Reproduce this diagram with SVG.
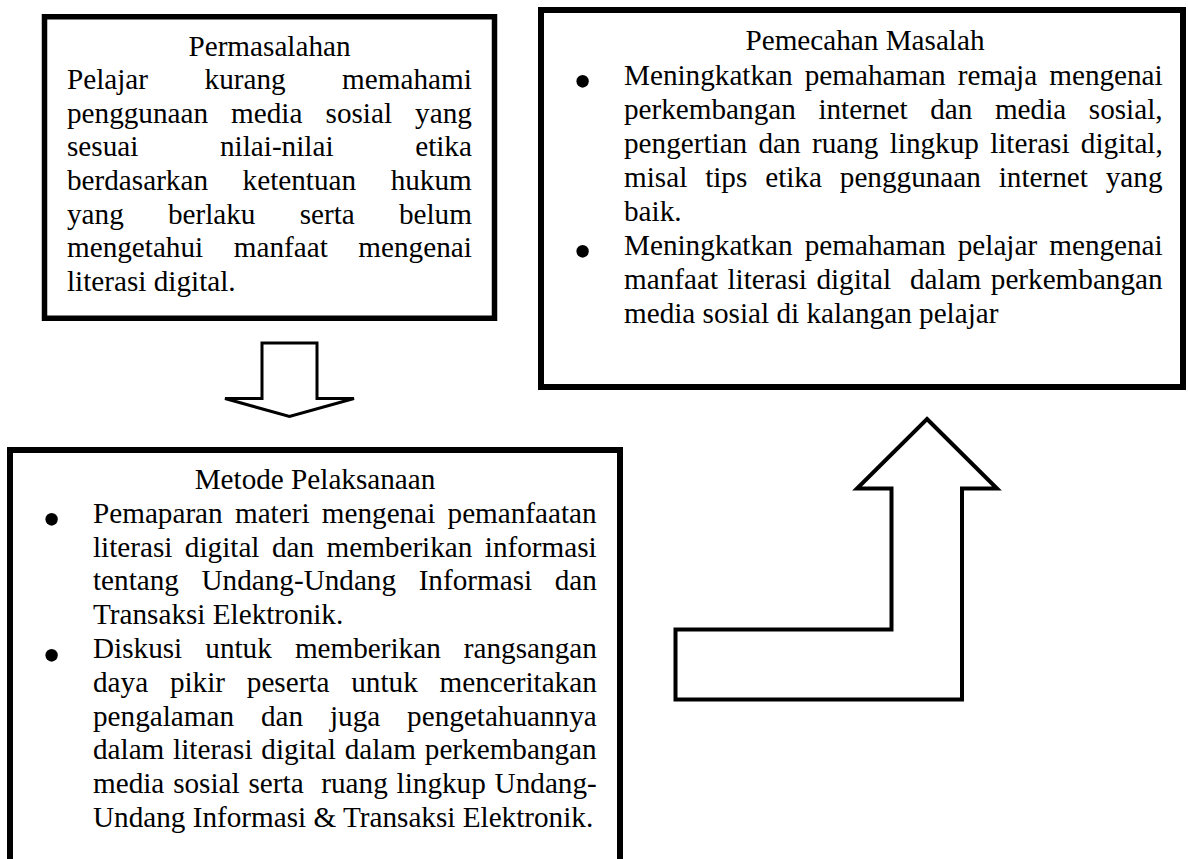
<svg xmlns="http://www.w3.org/2000/svg" width="1188" height="859" viewBox="0 0 1188 859">
<style>
.box{fill:#fff;stroke:#000}
.t{font-family:"Liberation Serif","Times New Roman",serif;font-size:29.2px;fill:#000}
.c{text-anchor:middle}
.b{font-family:"Liberation Serif","Times New Roman",serif;font-size:52px;fill:#000;text-anchor:middle}
.arrow{fill:#fff;stroke:#000;stroke-linejoin:miter}
</style>
<rect width="1188" height="859" fill="#fff"/>
<g id="connectors">
<path id="arrow-down" class="arrow" stroke-width="3" d="M262 343 H317 V398.5 H354 L289.5 416.5 L225 398.5 H262 Z"/>
<path id="arrow-up" class="arrow" stroke-width="4" d="M927 419 L997 488.5 H962 V699.5 H675.5 V629.5 H891.5 V488.5 H857 Z"/>
</g>
<g id="node-permasalahan">
<rect class="box" x="44.5" y="16.75" width="450" height="301.5" stroke-width="5.5"/>
<text class="t c" x="269.5" y="55.5">Permasalahan</text>
<text class="t" x="67" y="89.1" word-spacing="49.2">Pelajar kurang memahami</text>
<text class="t" x="67" y="122.7" word-spacing="15.8">penggunaan media sosial yang</text>
<text class="t" x="67" y="156.3" word-spacing="74.4">sesuai nilai-nilai etika</text>
<text class="t" x="67" y="189.9" word-spacing="27.3">berdasarkan ketentuan hukum</text>
<text class="t" x="67" y="223.5" word-spacing="36.9">yang berlaku serta belum</text>
<text class="t" x="67" y="257.1" word-spacing="23.3">mengetahui manfaat mengenai</text>
<text class="t" x="67" y="290.7">literasi digital.</text>
</g>
<g id="node-pemecahan">
<rect class="box" x="541" y="10" width="642" height="377" stroke-width="6"/>
<text class="t c" x="865" y="50">Pemecahan Masalah</text>
<text class="b" x="582.5" y="99">•</text>
<text class="t" x="624" y="84.5" word-spacing="4.78">Meningkatkan pemahaman remaja mengenai</text>
<text class="t" x="624" y="118.5" word-spacing="15.3">perkembangan internet dan media sosial,</text>
<text class="t" x="624" y="152.5" word-spacing="4.0">pengertian dan ruang lingkup literasi digital,</text>
<text class="t" x="624" y="186.5" word-spacing="10.6">misal tips etika penggunaan internet yang</text>
<text class="t" x="624" y="220.5">baik.</text>
<text class="b" x="582.5" y="269">•</text>
<text class="t" x="624" y="254.5" word-spacing="4.78">Meningkatkan pemahaman pelajar mengenai</text>
<text class="t" x="624" y="288.5" word-spacing="2.2" xml:space="preserve">manfaat literasi digital  dalam perkembangan</text>
<text class="t" x="624" y="322.5">media sosial di kalangan pelajar</text>
</g>
<g id="node-metode">
<rect class="box" x="10" y="450" width="610" height="420" stroke-width="6"/>
<text class="t c" x="315" y="489">Metode Pelaksanaan</text>
<text class="b" x="51.7" y="537.3">•</text>
<text class="t" x="93" y="522.8" word-spacing="5.0">Pemaparan materi mengenai pemanfaatan</text>
<text class="t" x="93" y="556.6" word-spacing="5.15">literasi digital dan memberikan informasi</text>
<text class="t" x="93" y="590.4" word-spacing="15.3">tentang Undang-Undang Informasi dan</text>
<text class="t" x="93" y="624.2">Transaksi Elektronik.</text>
<text class="b" x="51.7" y="672.5">•</text>
<text class="t" x="93" y="658" word-spacing="15.8">Diskusi untuk memberikan rangsangan</text>
<text class="t" x="93" y="691.8" word-spacing="14.5">daya pikir peserta untuk menceritakan</text>
<text class="t" x="93" y="725.6" word-spacing="19.6">pengalaman dan juga pengetahuannya</text>
<text class="t" x="93" y="759.4" word-spacing="1.5">dalam literasi digital dalam perkembangan</text>
<text class="t" x="93" y="793.2" word-spacing="1.55" xml:space="preserve">media sosial serta  ruang lingkup Undang-</text>
<text class="t" x="93" y="827">Undang Informasi &amp; Transaksi Elektronik.</text>
</g>
</svg>
